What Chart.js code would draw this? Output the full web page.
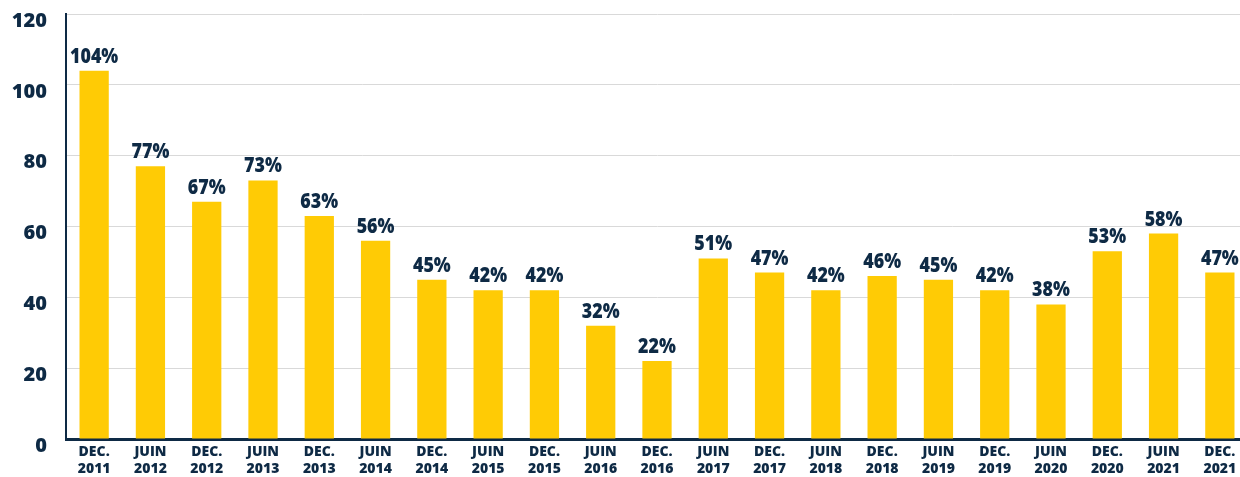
<!DOCTYPE html>
<html>
<head>
<meta charset="utf-8">
<script src="https://cdn.jsdelivr.net/npm/chart.js@4/dist/chart.umd.min.js"></script>
<style>
html,body{margin:0;padding:0;background:#fff;overflow:hidden;width:1240px;height:477px;}
#wrap{position:relative;width:1248px;height:477px;}
</style>
</head>
<body>
<div id="wrap"><canvas id="c" width="1248" height="477"></canvas></div>
<script>
const periods = ["DEC.","JUIN","DEC.","JUIN","DEC.","JUIN","DEC.","JUIN","DEC.","JUIN","DEC.","JUIN","DEC.","JUIN","DEC.","JUIN","DEC.","JUIN","DEC.","JUIN","DEC."];
const years = ["2011","2012","2012","2013","2013","2014","2014","2015","2015","2016","2016","2017","2017","2018","2018","2019","2019","2020","2020","2021","2021"];
const values = [104,77,67,73,63,56,45,42,42,32,22,51,47,42,46,45,42,38,53,58,47];
const yTicks = [0,20,40,60,80,100,120];

const navy = '#0e2a45';
const labels = periods.map((p,i)=>[p, years[i]]);

const valueLabels = {
  id:'valueLabels',
  afterDatasetsDraw(chart){
    const ctx = chart.ctx;
    const meta = chart.getDatasetMeta(0);
    meta.data.forEach((bar,i)=>{
      ctx.save();
      ctx.font = '800 21px "Open Sans"';
      ctx.fillStyle = navy;
      ctx.textAlign = 'center';
      ctx.textBaseline = 'alphabetic';
      ctx.translate(bar.x, bar.y - 8);
      ctx.scale(0.85, 1);
      ctx.fillText(values[i] + '%', 0, 0);
      ctx.restore();
    });
  }
};

new Chart(document.getElementById('c'), {
  type:'bar',
  data:{
    labels: labels,
    datasets:[{
      data: values,
      backgroundColor:'#FFCB05',
      borderWidth:0,
      barPercentage:0.52,
      categoryPercentage:1
    }]
  },
  options:{
    responsive:false,
    animation:false,
    layout:{padding:{top:14,left:0,right:0,bottom:0}},
    plugins:{legend:{display:false},tooltip:{enabled:false}},
    scales:{
      x:{
        grid:{display:false},
        border:{display:true,color:navy,width:3},
        afterFit(axis){ axis.height = 38; axis.paddingLeft = 0; axis.paddingRight = 0; },
        ticks:{
          color:navy,
          font:{family:'"Open Sans"',weight:'800',size:14,lineHeight:1.25},
          padding:-4,
          maxRotation:0,autoSkip:false
        }
      },
      y:{
        min:0,max:120,
        afterBuildTicks(axis){ axis.ticks = yTicks.map(v=>({value:v})); },
        afterFit(axis){ axis.width = 66; axis.paddingTop = 0; axis.paddingBottom = 0; },
        grid:{color:'#d9d9d9',lineWidth:1,drawTicks:false},
        border:{display:true,color:navy,width:2},
        ticks:{
          color:navy,
          font:{family:'"Open Sans"',weight:'800',size:20},
          padding:19,
          labelOffset:7
        }
      }
    }
  },
  plugins:[valueLabels]
});
</script>
</body>
</html>
